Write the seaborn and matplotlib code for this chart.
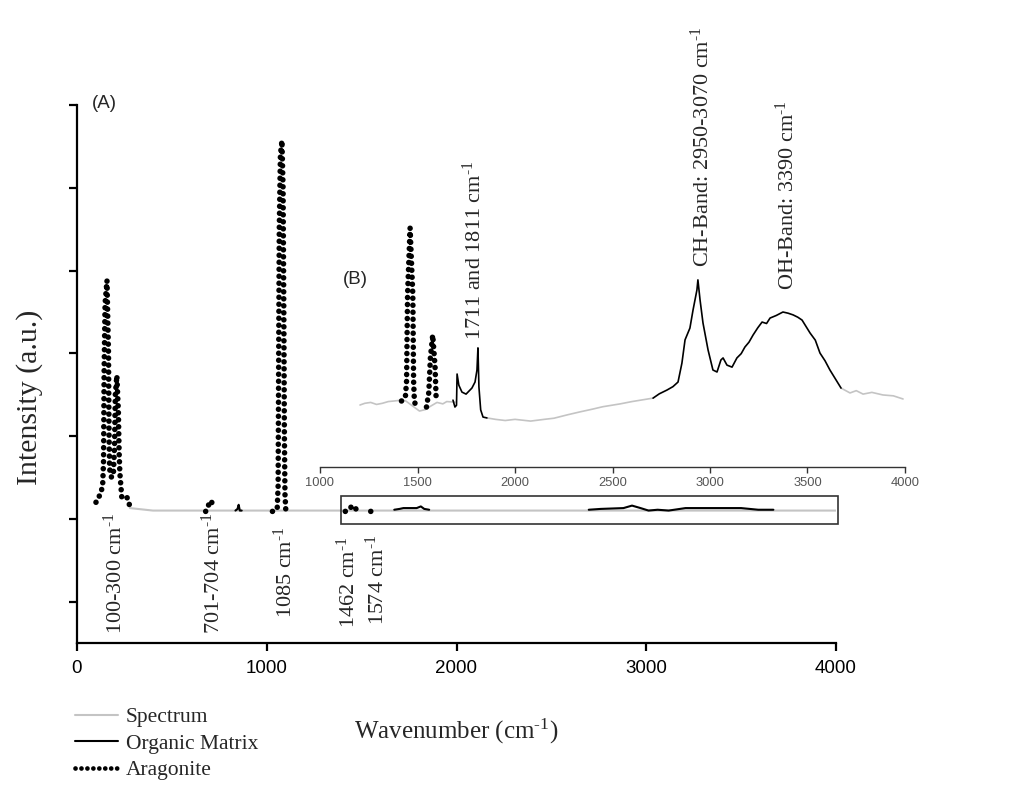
import numpy as np
import matplotlib
matplotlib.use("Agg")
import matplotlib.pyplot as plt
import seaborn as sns
from matplotlib.lines import Line2D
from matplotlib.patches import Rectangle

# ---- main panel (A): wavenumber (cm-1) vs intensity (a.u.) ----
spec_main_wn = [279, 400, 650, 900, 1000, 1200, 1400, 1700, 2000, 2400, 2700, 3000, 3400, 3700, 4000]
spec_main_int = [1.13, 1.10, 1.10, 1.10, 1.10, 1.10, 1.10, 1.10, 1.10, 1.10, 1.10, 1.10, 1.10, 1.10, 1.10]

arag_a1_wn = [100, 121, 135, 140, 143, 148, 158, 166, 169, 172, 182, 192, 198, 202, 210, 218,
              222, 226, 236, 262, 279]
arag_a1_int = [1.20, 1.29, 1.39, 1.7, 2.8, 3.6, 3.88, 3.0, 2.0, 1.6, 1.5, 1.55, 1.9, 2.5, 2.73,
               2.3, 1.8, 1.55, 1.26, 1.27, 1.15]
arag_a2_wn = [678, 694, 706, 712, 720]
arag_a2_int = [1.09, 1.17, 1.22, 1.19, 1.12]
arag_a3_wn = [1030, 1055, 1060, 1063, 1066, 1072, 1080, 1086, 1090, 1093, 1096, 1100]
arag_a3_int = [1.09, 1.12, 1.4, 3.0, 4.5, 5.4, 5.57, 5.0, 3.5, 2.0, 1.3, 1.12]
arag_a4_wn = [1414, 1440, 1451, 1470, 1483]
arag_a4_int = [1.09, 1.13, 1.16, 1.12, 1.09]
arag_a5_wn = [1548, 1562]
arag_a5_int = [1.09, 1.10]

org_a1_wn = [835, 846, 852, 858, 868]
org_a1_int = [1.10, 1.12, 1.17, 1.10, 1.10]
org_a2_wn = [1672, 1700, 1720, 1790, 1812, 1830, 1856]
org_a2_int = [1.11, 1.12, 1.13, 1.13, 1.15, 1.12, 1.11]
org_a3_wn = [2697, 2760, 2880, 2925, 2970, 3012, 3060, 3118, 3207, 3350, 3500, 3590, 3670]
org_a3_int = [1.11, 1.12, 1.13, 1.16, 1.13, 1.10, 1.11, 1.10, 1.13, 1.13, 1.13, 1.11, 1.11]

# ---- inset panel (B): 1000-4000 cm-1 zoom ----
spec_b1_wn = [1205, 1230, 1260, 1290, 1320, 1350, 1380, 1420, 1440, 1490, 1510, 1540, 1560,
              1600, 1630, 1650, 1692]
spec_b1_int = [2.16, 2.22, 2.25, 2.18, 2.22, 2.28, 2.30, 2.33, 2.30, 2.05, 1.95, 2.00, 2.09,
               2.25, 2.20, 2.28, 2.26]
spec_b2_wn = [1856, 1900, 1950, 2000, 2080, 2150, 2200, 2270, 2333, 2400, 2450, 2540, 2600, 2708]
spec_b2_int = [1.71, 1.66, 1.62, 1.66, 1.60, 1.66, 1.70, 1.82, 1.92, 2.02, 2.10, 2.20, 2.28, 2.40]
spec_b3_wn = [3672, 3718, 3750, 3785, 3830, 3887, 3940, 3990]
spec_b3_int = [2.75, 2.58, 2.66, 2.54, 2.60, 2.51, 2.48, 2.37]

arag_b1_wn = [1418, 1438, 1444, 1449, 1462, 1476, 1480, 1484, 1494]
arag_b1_int = [2.30, 2.45, 3.0, 6.0, 8.33, 6.0, 3.0, 2.3, 2.05]
arag_b2_wn = [1546, 1558, 1566, 1578, 1590, 1596]
arag_b2_int = [2.09, 2.6, 3.8, 4.60, 3.5, 2.30]

org_b1_wn = [1682, 1692, 1700, 1703, 1712, 1728, 1749, 1779, 1795, 1805, 1810, 1815, 1824, 1836, 1856]
org_b1_int = [2.33, 2.09, 2.15, 3.24, 2.85, 2.61, 2.54, 2.75, 2.96, 3.38, 4.15, 2.79, 1.99, 1.74, 1.71]
org_b2_wn = [2708, 2740, 2779, 2810, 2836, 2856, 2872, 2897, 2913, 2933, 2938, 2949, 2964, 2990,
             3015, 3036, 3056, 3067, 3087, 3113, 3138, 3160, 3179, 3200, 3221, 3245, 3267, 3290,
             3308, 3340, 3374, 3400, 3426, 3450, 3472, 3513, 3540, 3564, 3590, 3615, 3672]
org_b2_int = [2.40, 2.55, 2.68, 2.80, 2.96, 3.62, 4.43, 4.84, 5.47, 6.17, 6.52, 5.82, 5.02, 4.08,
              3.38, 3.31, 3.73, 3.80, 3.55, 3.48, 3.80, 3.95, 4.18, 4.35, 4.60, 4.85, 5.05, 5.00,
              5.19, 5.28, 5.40, 5.36, 5.30, 5.22, 5.12, 4.67, 4.42, 3.97, 3.70, 3.38, 2.75]

main_ticks = [0, 1000, 2000, 3000, 4000]
inset_ticks = [1000, 1500, 2000, 2500, 3000, 3500, 4000]

SERIF = "Liberation Serif"
SANS = "Liberation Sans"
GRAY = "#c4c4c4"
DOTS = (0, (0.01, 1.25))
CM = r"cm$^{\text{-}1}$"

sns.set_theme(style="ticks")
plt.rcParams["font.family"] = [SANS, "DejaVu Sans"]
plt.rcParams["mathtext.fontset"] = "custom"
plt.rcParams["mathtext.rm"] = SERIF
plt.rcParams["mathtext.it"] = SERIF + ":italic"
plt.rcParams["mathtext.bf"] = SERIF + ":bold"


def draw(ax, wn, val, kind, lw_scale=1.0):
    if kind == "spec":
        sns.lineplot(x=wn, y=val, ax=ax, color=GRAY, lw=1.5 * lw_scale,
                     sort=False, estimator=None)
    elif kind == "org":
        sns.lineplot(x=wn, y=val, ax=ax, color="black", lw=1.5 * lw_scale,
                     sort=False, estimator=None)
    else:
        sns.lineplot(x=wn, y=val, ax=ax, color="black", lw=4.0,
                     linestyle=DOTS, dash_capstyle="round",
                     sort=False, estimator=None)


fig = plt.figure(figsize=(10.29, 7.90), dpi=100)
fig.patch.set_facecolor("white")

# main axes
ax = fig.add_axes([77 / 1029, 1 - 643 / 790, 759 / 1029, 538 / 790])
ax.set_facecolor("white")
draw(ax, spec_main_wn, spec_main_int, "spec")
for wn, val in [(org_a1_wn, org_a1_int), (org_a2_wn, org_a2_int), (org_a3_wn, org_a3_int)]:
    draw(ax, wn, val, "org")
for wn, val in [(arag_a1_wn, arag_a1_int), (arag_a2_wn, arag_a2_int), (arag_a3_wn, arag_a3_int),
                (arag_a4_wn, arag_a4_int), (arag_a5_wn, arag_a5_int)]:
    draw(ax, wn, val, "arag")

ax.set_xlim(0, 4000)
ax.set_ylim(-0.5, 6)
ax.set_xticks(main_ticks)
ax.set_yticks(range(7))
ax.set_yticklabels([])
ax.set_xlabel("")
ax.set_ylabel("")
for s in ["top", "right"]:
    ax.spines[s].set_visible(False)
for s in ["left", "bottom"]:
    ax.spines[s].set_linewidth(1.6)
    ax.spines[s].set_color("black")
ax.tick_params(direction="out", length=6, width=1.6, colors="black", labelsize=13.5, pad=6)
ax.grid(False)

# zoom box on the main panel
ax.add_patch(Rectangle((1393, 0.94), 2619, 0.34, fill=False, edgecolor="#333333",
                       lw=1.2, clip_on=False, zorder=5))

main_notes = [
    (200, 1.07, "100-300 " + CM),
    (717, 1.07, "701-704 " + CM),
    (1096, 0.91, "1085 " + CM),
    (1428, 0.79, "1462 " + CM),
    (1581, 0.81, "1574 " + CM),
]
for x, y, t in main_notes:
    ax.text(x, y, t, rotation=90, ha="center", va="top", fontsize=16, family=SERIF)

# inset axes (B)
axi = fig.add_axes([320 / 1029, 1 - 467 / 790, 585 / 1029, 287 / 790])
axi.set_facecolor("none")
for wn, val in [(spec_b1_wn, spec_b1_int), (spec_b2_wn, spec_b2_int), (spec_b3_wn, spec_b3_int)]:
    draw(axi, wn, val, "spec", lw_scale=0.8)
for wn, val in [(org_b1_wn, org_b1_int), (org_b2_wn, org_b2_int)]:
    draw(axi, wn, val, "org", lw_scale=0.8)
for wn, val in [(arag_b1_wn, arag_b1_int), (arag_b2_wn, arag_b2_int)]:
    draw(axi, wn, val, "arag")

axi.set_xlim(1000, 4000)
axi.set_ylim(0, 10)
axi.set_xticks(inset_ticks)
axi.set_yticks([])
axi.set_xlabel("")
axi.set_ylabel("")
for s in ["top", "right", "left"]:
    axi.spines[s].set_visible(False)
axi.spines["bottom"].set_color("#333333")
axi.spines["bottom"].set_linewidth(1.0)
axi.tick_params(axis="x", direction="out", length=4, width=1.0, colors="#333333",
                labelcolor="#555555", labelsize=9.3, pad=3)
axi.grid(False)

inset_notes = [
    (1790, 4.43, "1711 and 1811 " + CM),
    (2959, 6.97, "CH-Band: 2950-3070 " + CM),
    (3395, 6.17, "OH-Band: 3390 " + CM),
]
for x, y, t in inset_notes:
    axi.text(x, y, t, rotation=90, ha="center", va="bottom", fontsize=16, family=SERIF)

fig.text(92 / 1029, 1 - 103 / 790, "(A)", fontsize=13.5, va="center", ha="left")
fig.text(343 / 1029, 1 - 280 / 790, "(B)", fontsize=13.5, va="center", ha="left")

fig.text(456 / 1029, 1 - 731 / 790, "Wavenumber (" + CM + ")", fontsize=18, family=SERIF,
         ha="center", va="center")
fig.text(30 / 1029, 1 - 397 / 790, "Intensity (a.u.)", fontsize=21.5, family=SERIF,
         rotation=90, ha="center", va="center")

handles = [
    Line2D([], [], color=GRAY, lw=1.5),
    Line2D([], [], color="black", lw=1.5),
    Line2D([], [], color="black", lw=3.4, linestyle=DOTS, dash_capstyle="round"),
]
fig.legend(handles, ["Spectrum", "Organic Matrix", "Aragonite"], loc="upper left",
           bbox_to_anchor=(75 / 1029, 1 - 707 / 790), frameon=False,
           prop={"family": SERIF, "size": 15.5}, handlelength=2.0, handletextpad=0.35,
           labelspacing=0.3, borderpad=0, borderaxespad=0)

fig.savefig("out.png", dpi=100, facecolor="white")
